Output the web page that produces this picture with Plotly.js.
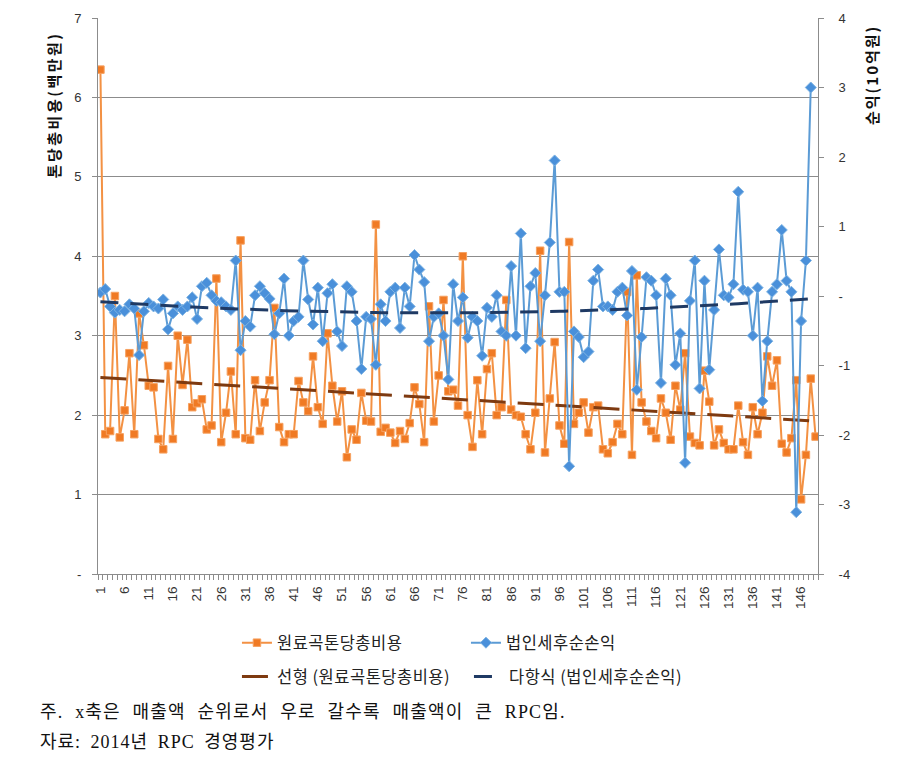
<!DOCTYPE html>
<html>
<head>
<meta charset="utf-8">
<script src="https://cdn.plot.ly/plotly-3.0.1.min.js"></script>
<style>
  html, body { margin: 0; padding: 0; background: #fff; }
  #chart { width: 904px; height: 773px; }
</style>
</head>
<body>
<div id="chart"></div>
<script>
// ---- data ----
const seriesCostName = "원료곡톤당총비용";
const seriesProfitName = "법인세후순손익";
const trendCostName = "선형 (원료곡톤당총비용)";
const trendProfitName = "다항식 (법인세후순손익)";

// 원료곡톤당총비용 (백만원), left axis, categories 1..149
const costPerTon = [
  6.35, 1.76, 1.80, 3.50, 1.72, 2.06, 2.78, 1.76, 3.28, 2.88,
  2.37, 2.35, 1.70, 1.57, 2.62, 1.70, 3.00, 2.38, 2.95, 2.10,
  2.15, 2.20, 1.82, 1.87, 3.72, 1.66, 2.03, 2.55, 1.76, 4.20,
  1.71, 1.69, 2.44, 1.80, 2.16, 2.44, 3.35, 1.85, 1.66, 1.76,
  1.76, 2.43, 2.16, 2.05, 2.74, 2.10, 1.89, 3.03, 2.37, 1.92,
  2.30, 1.47, 1.82, 1.69, 2.28, 1.93, 1.92, 4.40, 1.79, 1.84,
  1.78, 1.65, 1.80, 1.70, 1.90, 2.35, 2.14, 1.66, 3.37, 1.92,
  2.50, 3.45, 2.30, 2.32, 2.12, 4.00, 2.00, 1.60, 2.44, 1.76,
  2.58, 2.78, 2.00, 2.10, 3.45, 2.07, 2.00, 1.98, 1.76, 1.57,
  2.03, 4.07, 1.53, 2.21, 2.92, 1.87, 1.64, 4.18, 1.89, 2.03,
  2.16, 1.78, 2.10, 2.12, 1.57, 1.52, 1.66, 1.89, 1.76, 3.55,
  1.50, 3.76, 2.16, 1.92, 1.80, 1.71, 2.21, 2.03, 1.69, 2.37,
  2.07, 2.78, 1.73, 1.65, 1.62, 2.56, 2.17, 1.62, 1.82, 1.65,
  1.57, 1.57, 2.12, 1.66, 1.50, 2.10, 1.76, 2.03, 2.74, 2.37,
  2.69, 1.64, 1.53, 1.71, 2.44, 0.94, 1.50, 2.46, 1.73
];

// 법인세후순손익 (10억원), right axis
const netProfit = [
  0.05, 0.10, -0.15, -0.24, -0.20, -0.22, -0.12, -0.18, -0.85, -0.22,
  -0.10, -0.15, -0.18, -0.05, -0.48, -0.25, -0.15, -0.20, -0.15, -0.02,
  -0.33, 0.14, 0.19, 0.01, -0.07, -0.09, -0.15, -0.20, 0.51, -0.78,
  -0.36, -0.44, 0.01, 0.14, 0.04, -0.04, -0.55, -0.25, 0.25, -0.57,
  -0.36, -0.30, 0.51, -0.05, -0.41, 0.12, -0.65, 0.04, 0.17, -0.51,
  -0.72, 0.14, 0.06, -0.36, -1.05, -0.30, -0.33, -0.99, -0.12, -0.36,
  0.06, 0.12, -0.46, 0.12, -0.15, 0.59, 0.38, 0.20, -0.65, -0.30,
  -0.25, -0.57, -1.20, 0.17, -0.36, -0.02, -0.60, -0.30, -0.36, -0.86,
  -0.17, -0.30, 0.01, -0.51, -0.57, 0.43, -0.57, 0.90, -0.75, 0.14,
  0.33, -0.65, 0.01, 0.77, 1.95, 0.06, 0.06, -2.45, -0.51, -0.59,
  -0.88, -0.80, 0.22, 0.38, -0.15, -0.15, -0.20, 0.06, 0.12, -0.28,
  0.36, -1.35, -0.59, 0.27, 0.22, 0.01, -1.25, 0.25, 0.01, -0.99,
  -0.54, -2.40, -0.07, 0.51, -1.33, 0.22, -1.06, -0.20, 0.67, 0.01,
  -0.02, 0.17, 1.50, 0.09, 0.06, -0.57, 0.12, -1.51, -0.65, 0.06,
  0.17, 0.95, 0.22, 0.06, -3.11, -0.36, 0.51, 3.00, null
];

// category index (sales rank) 1..149
const categories = costPerTon.map((_, i) => i + 1);
// x tick labels: every 5th rank
const xTickVals = categories.filter(c => (c - 1) % 5 === 0);
const xTickText = xTickVals.map(String);

const leftTickVals = [0, 1, 2, 3, 4, 5, 6, 7];
const leftTickText = ["-", "1", "2", "3", "4", "5", "6", "7"];
const rightTickVals = [-4, -3, -2, -1, 0, 1, 2, 3, 4];
const rightTickText = ["-4", "-3", "-2", "-1", "-", "1", "2", "3", "4"];

const noteText = "주. x축은 매출액 순위로서 우로 갈수록 매출액이 큰 RPC임.";
const sourceText = "자료: 2014년 RPC 경영평가";
const leftTitle = "톤당총비용(백만원)";
const rightTitle = "순익(10억원)";

// ---- trend lines (least squares, as the spreadsheet trendlines) ----
function linearFit(xs, ys) {
  let n = 0, sx = 0, sy = 0, sxx = 0, sxy = 0;
  xs.forEach((x, i) => { const y = ys[i]; if (y == null) return; n++; sx += x; sy += y; sxx += x * x; sxy += x * y; });
  const b = (n * sxy - sx * sy) / (n * sxx - sx * sx);
  const a = (sy - b * sx) / n;
  return x => a + b * x;
}
function quadFit(xs, ys) {
  const S = [0, 0, 0, 0, 0], T = [0, 0, 0];
  xs.forEach((x, i) => {
    const y = ys[i]; if (y == null) return;
    let p = 1;
    for (let k = 0; k < 5; k++) { S[k] += p; if (k < 3) T[k] += p * y; p *= x; }
  });
  const M = [[S[0], S[1], S[2], T[0]], [S[1], S[2], S[3], T[1]], [S[2], S[3], S[4], T[2]]];
  for (let c = 0; c < 3; c++) {
    for (let r = c + 1; r < 3; r++) {
      const f = M[r][c] / M[c][c];
      for (let k = c; k < 4; k++) M[r][k] -= f * M[c][k];
    }
  }
  const co = [0, 0, 0];
  for (let r = 2; r >= 0; r--) {
    let s = M[r][3];
    for (let k = r + 1; k < 3; k++) s -= M[r][k] * co[k];
    co[r] = s / M[r][r];
  }
  return x => co[0] + co[1] * x + co[2] * x * x;
}
const lin = linearFit(categories, costPerTon);
const quad = quadFit(categories, netProfit);
const profitCats = categories.filter((c, i) => netProfit[i] != null);
const costTrend = categories.map(lin);
const profitTrend = profitCats.map(quad);

const SP = (t, ls, ws) => `<span style="letter-spacing:${ls}px;word-spacing:${ws}px">${t}</span>`;
const legendFont = { family: "Noto Sans CJK KR, sans-serif", size: 16.5, color: "#222" };

const traces = [
  {
    x: categories, y: costPerTon, name: SP(seriesCostName, 0.5, 0), type: "scatter", mode: "lines+markers",
    line: { color: "#F39143", width: 2 },
    marker: { symbol: "square", size: 7.5, color: "#F07A24", line: { color: "#F6A160", width: 1 } },
    legend: "legend", yaxis: "y"
  },
  {
    x: categories, y: netProfit, name: SP(seriesProfitName, 0.5, 0), type: "scatter", mode: "lines+markers",
    line: { color: "#5B9BD5", width: 2 }, connectgaps: false,
    marker: { symbol: "diamond", size: 8.5, color: "#4A90DA", line: { color: "#7DB3E3", width: 1 } },
    legend: "legend", yaxis: "y2"
  },
  {
    x: categories, y: costTrend, name: SP(trendCostName, 0.5, 0), type: "scatter", mode: "lines",
    line: { color: "#7E3A10", width: 3, dash: "26px,12px" },
    legend: "legend2", yaxis: "y"
  },
  {
    x: profitCats, y: profitTrend, name: SP(trendProfitName, 0.5, 0), type: "scatter", mode: "lines",
    line: { color: "#1F3A64", width: 3, dash: "18px,12px" },
    legend: "legend2", yaxis: "y2"
  }
];

const gridColor = "#8C8C8C";
const tickFont = { family: "Liberation Sans, Arial, sans-serif", size: 13, color: "#333" };

const layout = {
  width: 904, height: 773,
  margin: { l: 98, r: 86, t: 18, b: 199, pad: 0 },
  paper_bgcolor: "#fff", plot_bgcolor: "#fff",
  showlegend: true,
  xaxis: {
    type: "linear", range: [0.5, categories.length + 0.5],
    tickmode: "array", tickvals: xTickVals, ticktext: xTickText,
    tickangle: -90, tickfont: { family: "Liberation Sans, Arial, sans-serif", size: 13.5, color: "#333" },
    ticks: "", ticklabelstandoff: 6,
    showgrid: false, zeroline: false,
    showline: true, linecolor: gridColor, linewidth: 1,
    minor: { tickmode: "linear", tick0: 0.5, dtick: 1, ticks: "outside", ticklen: 5, tickcolor: gridColor, tickwidth: 1, showgrid: false },
    fixedrange: true
  },
  yaxis: {
    range: [0, 7], tickmode: "array", tickvals: leftTickVals, ticktext: leftTickText,
    tickfont: tickFont, ticks: "outside", ticklen: 5, tickcolor: gridColor, ticklabelstandoff: 8,
    showgrid: true, gridcolor: gridColor, gridwidth: 1,
    zeroline: false, showline: true, linecolor: gridColor, linewidth: 1
  },
  yaxis2: {
    range: [-4, 4], overlaying: "y", side: "right",
    tickmode: "array", tickvals: rightTickVals, ticktext: rightTickText,
    tickfont: tickFont, ticks: "outside", ticklen: 5, tickcolor: gridColor, ticklabelstandoff: 12,
    showgrid: false, zeroline: false, showline: true, linecolor: gridColor, linewidth: 1
  },
  legend: {
    orientation: "h", x: 0.193, xanchor: "left", y: -0.124, yanchor: "middle",
    font: legendFont, entrywidth: 184, entrywidthmode: "pixels",
    bgcolor: "rgba(0,0,0,0)", itemclick: false, itemdoubleclick: false
  },
  legend2: {
    orientation: "h", x: 0.193, xanchor: "left", y: -0.185, yanchor: "middle",
    font: legendFont, entrywidth: 187, entrywidthmode: "pixels",
    bgcolor: "rgba(0,0,0,0)", itemclick: false, itemdoubleclick: false
  },
  annotations: [
    {
      xref: "paper", yref: "paper", x: -0.0625, y: 0.843, textangle: -90,
      text: "<b>" + SP(leftTitle, 2.5, 0) + "</b>", showarrow: false,
      font: { family: "Noto Sans CJK KR, sans-serif", size: 15, color: "#111" },
      xanchor: "center", yanchor: "middle"
    },
    {
      xref: "paper", yref: "paper", x: 1.075, y: 0.8975, textangle: -90,
      text: "<b>" + SP(rightTitle, 2, 0) + "</b>", showarrow: false,
      font: { family: "Noto Sans CJK KR, sans-serif", size: 15, color: "#111" },
      xanchor: "center", yanchor: "middle"
    },
    {
      xref: "paper", yref: "paper", x: -0.0833, y: -0.248, xanchor: "left", yanchor: "middle",
      text: SP(noteText, 1.2, 6), showarrow: false,
      font: { family: "Liberation Serif, Noto Sans CJK KR, serif", size: 18, color: "#111" }
    },
    {
      xref: "paper", yref: "paper", x: -0.0833, y: -0.302, xanchor: "left", yanchor: "middle",
      text: SP(sourceText, 1.0, 4), showarrow: false,
      font: { family: "Liberation Serif, Noto Sans CJK KR, serif", size: 18, color: "#111" }
    }
  ]
};

Plotly.newPlot("chart", traces, layout, { displayModeBar: false, staticPlot: true });
</script>
</body>
</html>
